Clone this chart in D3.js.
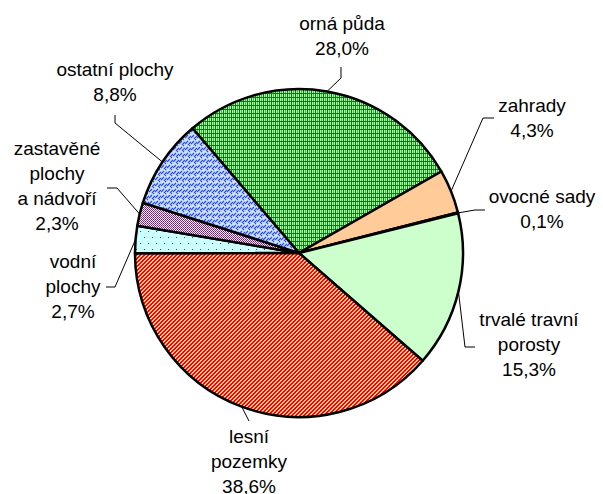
<!DOCTYPE html>
<html>
<head>
<meta charset="utf-8">
<script src="https://cdn.jsdelivr.net/npm/d3@7"></script>
<style>
  body { margin: 0; background: #fff; }
  text { font-family: "Liberation Sans", Arial, sans-serif; font-size: 19px; fill: #000; }
  pattern rect { shape-rendering: crispEdges; }
</style>
</head>
<body>
<div id="chart"></div>
<script>
// categories (label lines) and values in %
var categories = [
    ["orná půda"],
    ["zahrady"],
    ["ovocné sady"],
    ["trvalé travní", "porosty"],
    ["lesní", "pozemky"],
    ["vodní", "plochy"],
    ["zastavěné", "plochy", "a nádvoří"],
    ["ostatní plochy"]
];
var values = [28.0, 4.3, 0.1, 15.3, 38.6, 2.7, 2.3, 8.8];
var fills = ["url(#pOrna)", "#ffcc99", "#000000", "#ccffcc", "url(#pLes)", "url(#pVoda)", "url(#pZast)", "url(#pOst)"];

// label placement: text centre x, first baseline, leader start and elbow
var labelLayout = [
    {x: 342, y: 30,  s: [341, 67],  e: [341, 78]},
    {x: 532, y: 112, s: [494, 118], e: [483, 118]},
    {x: 542, y: 203, s: [485, 210], e: [475, 210]},
    {x: 529, y: 326, s: [475, 347], e: [465, 347]},
    {x: 249, y: 443, s: [249, 421], e: [249, 421]},
    {x: 73,  y: 268, s: [106, 287], e: [115, 287]},
    {x: 57,  y: 155, s: [107, 188], e: [117, 188]},
    {x: 115, y: 76,  s: [115, 115], e: [115, 123]}
];

var w = 603, h = 494;
var cx = 299, cy = 253, r = 164;
var lineH = 25;

var svg = d3.select("#chart").append("svg")
    .attr("width", w).attr("height", h);

var defs = svg.append("defs");

function tile(id, tw, th, bg){
    var t = defs.append("pattern").attr("id", id)
        .attr("patternUnits", "userSpaceOnUse").attr("width", tw).attr("height", th);
    t.append("rect").attr("width", tw).attr("height", th).attr("fill", bg);
    return t;
}
function px(t, x, y, c, pw, ph){
    t.append("rect").attr("x", x).attr("y", y)
        .attr("width", pw || 1).attr("height", ph || 1).attr("fill", c);
}

// orna puda - green grid
var p = tile("pOrna", 4, 4, "#b3ffb3");
px(p, 2, 0, "#33cc33", 1, 4);
px(p, 0, 0, "#008000", 1, 4);
px(p, 0, 0, "#008000", 4, 1);

// lesni pozemky - red diagonal on peach
p = tile("pLes", 4, 4, "#ffcc99");
[[2, 0], [3, 0], [1, 1], [2, 1], [0, 2], [1, 2], [3, 3], [0, 3]].forEach(function(q){
    px(p, q[0], q[1], "#ff0000");
});

// vodni plochy - blue dots on light cyan
p = tile("pVoda", 8, 12, "#ccffff");
px(p, 1, 2, "#3333ff");
px(p, 5, 8, "#3333ff");

// zastavene plochy - purple checks
p = tile("pZast", 2, 2, "#ffffff");
px(p, 0, 0, "#990099");
px(p, 1, 1, "#993399");

// ostatni plochy - blue weave on light blue
p = tile("pOst", 6, 6, "#cce0ff");
p.append("path").attr("d", "M0,5 L3,2 M3,6 L6,3 M4,1 L5,0")
    .attr("stroke", "#2244ff").attr("stroke-width", 1.2).attr("fill", "none");

var a0 = -40.5 * Math.PI / 180;
var pie = d3.pie().sort(null).startAngle(a0).endAngle(a0 + 2 * Math.PI);
var arcs = pie(values);

var arc = d3.arc().innerRadius(0).outerRadius(r);

var g = svg.append("g").attr("transform", "translate(" + cx + "," + cy + ")");

g.selectAll("path.slice")
    .data(arcs)
    .enter()
    .append("path")
    .attr("class", "slice")
    .attr("d", arc)
    .attr("fill", function(d, i){ return fills[i]; })
    .attr("stroke", "#000")
    .attr("stroke-width", 2.5)
    .attr("stroke-linejoin", "round");

// leader lines
var fmt = function(v){ return d3.format(".1f")(v).replace(".", ",") + "%"; };

svg.selectAll("path.leader")
    .data(arcs)
    .enter()
    .append("path")
    .attr("class", "leader")
    .attr("fill", "none")
    .attr("stroke", "#000")
    .attr("stroke-width", 1)
    .attr("d", function(d, i){
        var m = (d.startAngle + d.endAngle) / 2;
        var ax = cx + r * Math.sin(m), ay = cy - r * Math.cos(m);
        var L = labelLayout[i];
        return "M" + L.s[0] + "," + L.s[1] + "L" + L.e[0] + "," + L.e[1] + "L" + ax + "," + ay;
    });

// labels
var labels = svg.selectAll("text.lbl")
    .data(arcs)
    .enter()
    .append("text")
    .attr("class", "lbl")
    .attr("text-anchor", "middle");

labels.each(function(d, i){
    var lines = categories[i].concat([fmt(values[i])]);
    var L = labelLayout[i];
    d3.select(this).selectAll("tspan")
        .data(lines)
        .enter()
        .append("tspan")
        .attr("x", L.x)
        .attr("y", function(t, j){ return L.y + j * lineH; })
        .text(function(t){ return t; });
});
</script>
</body>
</html>
